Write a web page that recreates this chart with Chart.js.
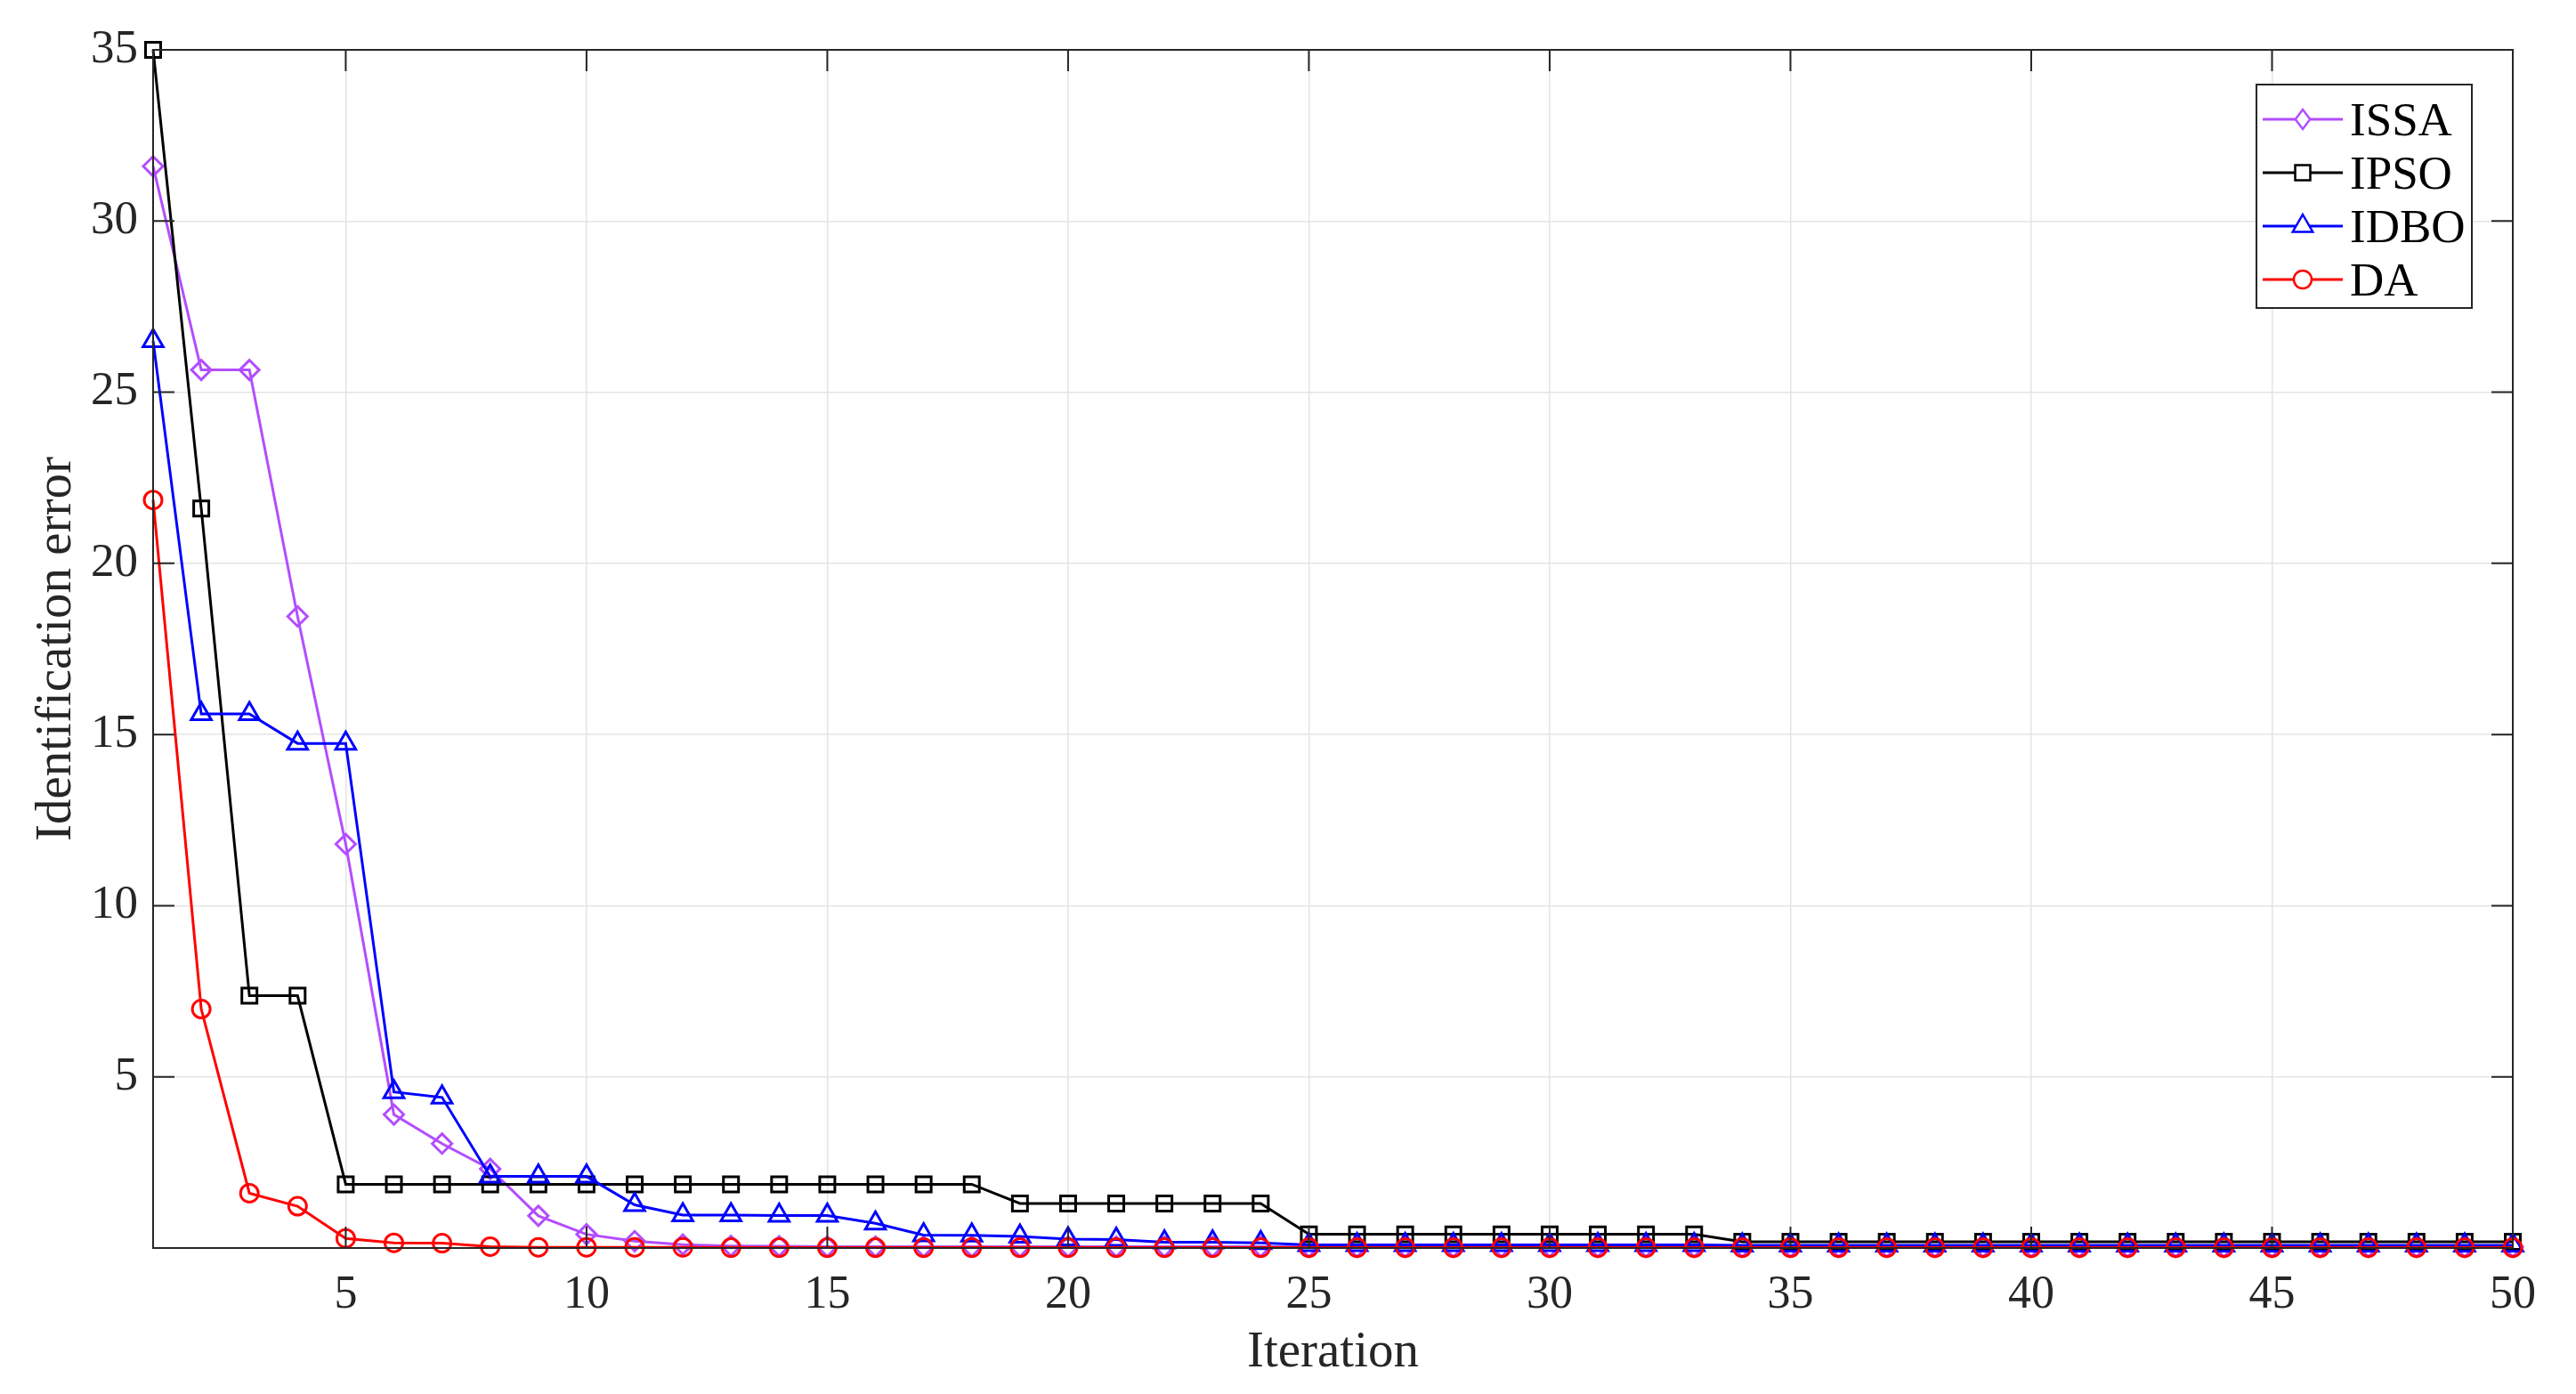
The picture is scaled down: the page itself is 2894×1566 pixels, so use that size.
<!DOCTYPE html>
<html>
<head>
<meta charset="utf-8">
<script src="https://cdn.jsdelivr.net/npm/chart.js@4.4.1/dist/chart.umd.min.js"></script>
<style>
  html, body { margin: 0; padding: 0; background: #fff; }
  #wrap { position: relative; width: 2894px; height: 1566px; }
  #legend {
    position: absolute; left: 2534px; top: 94px; width: 244px; height: 253px;
    border: 2px solid #262626; background: #fff; box-sizing: border-box;
    font-family: "Liberation Serif", "Times New Roman", serif; font-size: 53px; color: #000;
    padding-top: 8px;
  }
  .row { display: flex; align-items: center; height: 60px; }
  .row canvas { margin-left: 6px; margin-right: 8px; }
</style>
</head>
<body>
<div id="wrap">
  <canvas id="lineChart" width="2894" height="1566"></canvas>
  <div id="legend"></div>
</div>
<script>
const iterations = [1,2,3,4,5,6,7,8,9,10,11,12,13,14,15,16,17,18,19,20,21,22,23,24,25,
  26,27,28,29,30,31,32,33,34,35,36,37,38,39,40,41,42,43,44,45,46,47,48,49,50];

const issaData = [31.6,25.65,25.65,18.45,11.8,3.9,3.05,2.31,0.94,0.4,0.2,0.1,0.06,0.05,0.04,0.04,0.04,0.04,0.04,0.04,
  0.04,0.04,0.04,0.04,0.03,0.03,0.03,0.03,0.03,0.03,0.03,0.03,0.03,0.03,0.03,0.03,0.03,0.03,0.03,0.03,
  0.03,0.03,0.03,0.03,0.03,0.03,0.03,0.03,0.03,0.03];
const ipsoData = [35,21.6,7.37,7.37,1.86,1.86,1.86,1.86,1.86,1.86,1.86,1.86,1.86,1.86,1.86,1.86,1.86,1.86,1.3,1.3,
  1.3,1.3,1.3,1.3,0.4,0.4,0.4,0.4,0.4,0.4,0.4,0.4,0.4,0.18,0.18,0.18,0.18,0.18,0.18,0.18,
  0.18,0.18,0.18,0.18,0.18,0.18,0.18,0.18,0.18,0.18];
const idboData = [26.5,15.6,15.6,14.74,14.74,4.56,4.4,2.09,2.09,2.09,1.26,0.96,0.96,0.95,0.95,0.72,0.38,0.37,0.34,0.26,
  0.25,0.17,0.17,0.15,0.09,0.09,0.09,0.09,0.09,0.09,0.09,0.09,0.09,0.08,0.08,0.08,0.08,0.08,0.08,0.08,
  0.08,0.08,0.08,0.08,0.08,0.08,0.08,0.08,0.08,0.08];
const daData = [21.85,6.98,1.6,1.22,0.28,0.15,0.14,0.04,0.02,0.02,0.02,0.02,0.01,0.01,0.01,0.01,0.01,0.01,0.01,0.01,
  0.01,0.01,0.01,0.01,0.01,0.01,0.01,0.01,0.01,0.01,0.01,0.01,0.01,0.01,0.01,0.01,0.01,0.01,0.01,0.01,
  0.01,0.01,0.01,0.01,0.01,0.01,0.01,0.01,0.01,0.01];

const seriesNames = ["ISSA", "IPSO", "IDBO", "DA"];
const xTicks = [5,10,15,20,25,30,35,40,45,50];
const yTicks = [5,10,15,20,25,30,35];

const FONT = '"Liberation Serif", "Times New Roman", serif';
const FRAME = "#262626";

const styles = [
  { color: "#b34dff", point: "rectRot", radius: 11, order: 4 },
  { color: "#000000", point: "rect", radius: 12, order: 3 },
  { color: "#0000ff", point: "triangle", radius: 13, order: 2 },
  { color: "#ff0000", point: "circle", radius: 10, order: 1 },
];
const allData = [issaData, ipsoData, idboData, daData];

const datasets = seriesNames.map((name, i) => ({
  label: name,
  data: allData[i].map((v, k) => ({ x: iterations[k], y: v })),
  borderColor: styles[i].color,
  backgroundColor: "transparent",
  borderWidth: 3,
  pointStyle: styles[i].point,
  pointRadius: styles[i].radius,
  pointBorderWidth: 3,
  pointBorderColor: styles[i].color,
  pointBackgroundColor: "rgba(0,0,0,0)",
  tension: 0,
  order: styles[i].order,
  clip: false,
}));

// box round the plot with inward ticks on every side
const framePlugin = {
  id: "frame",
  afterDatasetsDraw(chart) {
    const { ctx, chartArea: a, scales } = chart;
    const len = 24;
    ctx.save();
    ctx.strokeStyle = FRAME;
    ctx.lineWidth = 2;
    ctx.strokeRect(a.left, a.top, a.right - a.left, a.bottom - a.top);
    ctx.beginPath();
    xTicks.forEach((v) => {
      const px = scales.x.getPixelForValue(v);
      ctx.moveTo(px, a.bottom); ctx.lineTo(px, a.bottom - len);
      ctx.moveTo(px, a.top); ctx.lineTo(px, a.top + len);
    });
    yTicks.forEach((v) => {
      const py = scales.y.getPixelForValue(v);
      ctx.moveTo(a.left, py); ctx.lineTo(a.left + len, py);
      ctx.moveTo(a.right, py); ctx.lineTo(a.right - len, py);
    });
    ctx.stroke();
    ctx.restore();
  },
};

const ctxLine = document.getElementById("lineChart").getContext("2d");
new Chart(ctxLine, {
  type: "line",
  data: { datasets },
  plugins: [framePlugin],
  options: {
    responsive: false,
    animation: false,
    layout: { padding: { left: 0, top: 56, right: 71, bottom: 0 } },
    plugins: { legend: { display: false }, tooltip: { enabled: false } },
    scales: {
      x: {
        type: "linear",
        min: 1,
        max: 50,
        afterBuildTicks: (s) => { s.ticks = xTicks.map((v) => ({ value: v })); },
        afterFit: (s) => { s.height = 164; },
        grid: { color: "#e4e4e4", lineWidth: 1.5, drawTicks: false },
        border: { display: false },
        ticks: {
          padding: 22,
          color: "#262626",
          font: { family: FONT, size: 52 },
          maxRotation: 0,
          autoSkip: false,
        },
        title: {
          display: true,
          text: "Iteration",
          color: "#262626",
          font: { family: FONT, size: 57 },
          padding: { top: 0, bottom: 12 },
        },
      },
      y: {
        type: "linear",
        min: 0,
        max: 35,
        afterBuildTicks: (s) => { s.ticks = yTicks.map((v) => ({ value: v })); },
        afterFit: (s) => { s.width = 172; },
        grid: { color: "#e4e4e4", lineWidth: 1.5, drawTicks: false },
        border: { display: false },
        ticks: {
          padding: 17,
          color: "#262626",
          font: { family: FONT, size: 53 },
          autoSkip: false,
        },
        title: {
          display: true,
          text: "Identification error",
          color: "#262626",
          font: { family: FONT, size: 57 },
          padding: { top: 30, bottom: 0 },
        },
      },
    },
  },
});

// legend drawn as html, each entry a short line with its marker
function drawMarker(c, style, x, y, r) {
  c.beginPath();
  if (style === "circle") {
    c.arc(x, y, r, 0, Math.PI * 2);
  } else if (style === "rect") {
    const h = r * Math.SQRT1_2;
    c.rect(x - h, y - h, 2 * h, 2 * h);
  } else if (style === "rectRot") {
    c.moveTo(x, y - r); c.lineTo(x + r * 0.75, y); c.lineTo(x, y + r); c.lineTo(x - r * 0.75, y); c.closePath();
  } else if (style === "triangle") {
    c.moveTo(x, y - r); c.lineTo(x + r * 0.866, y + r * 0.5); c.lineTo(x - r * 0.866, y + r * 0.5); c.closePath();
  }
  c.fillStyle = "#fff";
  c.fill();
  c.stroke();
}

const legendEl = document.getElementById("legend");
seriesNames.forEach((name, i) => {
  const row = document.createElement("div");
  row.className = "row";
  const cv = document.createElement("canvas");
  cv.width = 90; cv.height = 40;
  const c = cv.getContext("2d");
  c.strokeStyle = styles[i].color;
  c.lineWidth = 3;
  c.beginPath(); c.moveTo(0, 20); c.lineTo(90, 20); c.stroke();
  c.lineWidth = 2.5;
  drawMarker(c, styles[i].point, 45, 20, styles[i].radius);
  const span = document.createElement("span");
  span.textContent = name;
  row.appendChild(cv);
  row.appendChild(span);
  legendEl.appendChild(row);
});
</script>
</body>
</html>
